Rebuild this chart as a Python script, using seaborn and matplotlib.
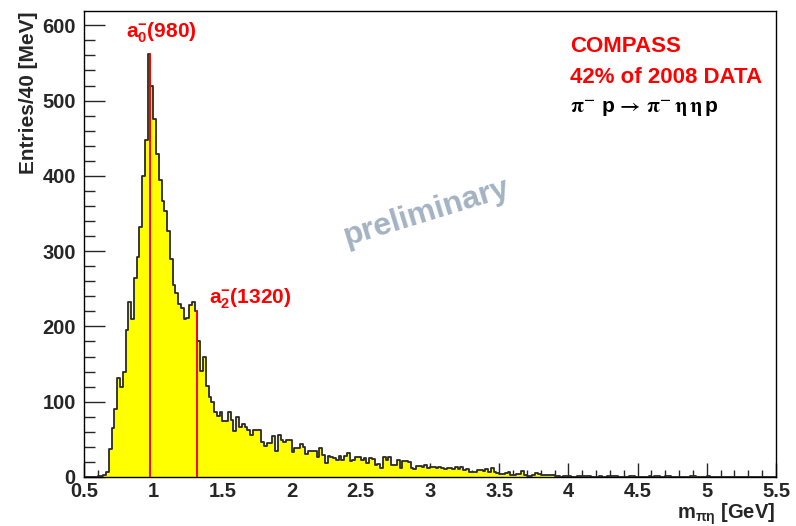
import numpy as np
import pandas as pd
import matplotlib
matplotlib.use("Agg")
import matplotlib.pyplot as plt
import seaborn as sns
from matplotlib.ticker import MultipleLocator, FuncFormatter

# pi- eta invariant mass spectrum, 20 MeV bins starting at 0.5 GeV
bin_width = 0.02
x_start = 0.5
counts = [
    0, 0, 0, 0, 0, 1, 1, 2, 6, 37,
    65, 90, 131, 119, 140, 195, 233, 210, 264, 292,
    332, 400, 448, 562, 520, 476, 429, 395, 367, 353,
    327, 290, 255, 245, 230, 225, 210, 211, 228, 232,
    221, 181, 141, 159, 121, 106, 99, 87, 81, 86,
    74, 74, 86, 76, 61, 80, 67, 70, 67, 63,
    56, 63, 63, 63, 47, 41, 45, 45, 54, 34,
    56, 49, 47, 49, 49, 33, 38, 38, 44, 40,
    31, 35, 35, 34, 26, 38, 29, 19, 28, 26,
    25, 23, 28, 22, 28, 32, 21, 22, 26, 26,
    23, 25, 19, 25, 24, 16, 17, 12, 27, 23,
    27, 16, 16, 23, 12, 21, 21, 20, 12, 10,
    15, 15, 13, 16, 12, 13, 13, 12, 13, 12,
    11, 12, 12, 11, 13, 11, 13, 9, 10, 7,
    7, 6, 9, 9, 8, 11, 6, 12, 7, 5,
    4, 4, 5, 6, 3, 3, 4, 4, 8, 2,
    1, 1, 2, 5, 4, 3, 2, 3, 2, 2,
    1, 1, 0, 1, 1, 1, 0, 0, 1, 1,
    1, 1, 1, 0, 0, 0, 1, 0, 0, 1,
    1, 1, 1, 0, 0, 0, 0, 1, 1, 0,
    0, 0, 0, 0, 1, 0, 1, 1, 0, 0,
    1, 1, 0, 0, 0, 0, 0, 0, 0, 1,
    1, 0, 0, 0, 0, 1, 0, 0, 0, 0,
    0, 0, 0, 0, 0, 0, 0, 0, 0, 0,
    0, 0, 0, 0, 0, 0, 0, 0, 0, 0,
]
resonance_labels = [r"a$_{0}^{-}$(980)", r"a$_{2}^{-}$(1320)"]
resonance_masses = [0.98, 1.32]
info_lines = ["COMPASS", "42% of 2008 DATA"]
reaction = (r"$\mathrm{\pi}^{-}$ p$\,\rightarrow\,"
            r"\mathrm{\pi}^{-}\,\mathrm{\eta}\,\mathrm{\eta}\,$p")

sns.set_style("white")
plt.rcParams["font.family"] = ["Liberation Sans", "DejaVu Sans"]
plt.rcParams["font.weight"] = "bold"
plt.rcParams["mathtext.fontset"] = "custom"
plt.rcParams["mathtext.rm"] = "Liberation Sans:bold"
plt.rcParams["mathtext.it"] = "Liberation Sans:bold"
plt.rcParams["mathtext.bf"] = "Liberation Sans:bold"

edges = [round(x_start + bin_width * i, 4) for i in range(len(counts) + 1)]
centers = [0.5 * (a + b) for a, b in zip(edges[:-1], edges[1:])]
df = pd.DataFrame({"mass": centers, "entries": counts})

W, H = 796, 526
fig = plt.figure(figsize=(W / 100, H / 100), dpi=100)
ax = fig.add_axes([84 / W, 1 - 477 / H, 692 / W, 466 / H])

sns.histplot(data=df, x="mass", weights="entries", bins=edges, element="step",
             fill=True, color="#ffff00", alpha=1, linewidth=0, ax=ax)
sns.histplot(data=df, x="mass", weights="entries", bins=edges, element="step",
             fill=False, color="#2a2a2a", linewidth=1.3, ax=ax)

# resonance markers: vertical line up to the bin just below the nominal mass
for lab, m in zip(resonance_labels, resonance_masses):
    idx = int(np.searchsorted(edges, m - 1e-9)) - 1
    ax.plot([m, m], [0, counts[idx]], color="#ff0000", lw=1.4, zorder=5)

ax.text(1.06, 584, resonance_labels[0], color="#ff0000", fontsize=15,
        ha="center", va="baseline")
ax.text(1.40, 230, resonance_labels[1], color="#ff0000", fontsize=15,
        ha="left", va="baseline")

ax.text(4.01, 564, info_lines[0], color="#ff0000", fontsize=16, ha="left", va="baseline")
ax.text(4.01, 523, info_lines[1], color="#ff0000", fontsize=16, ha="left", va="baseline")
ax.text(4.01, 483, reaction, color="black", fontsize=15, ha="left", va="baseline",
        math_fontfamily="stix")

ax.text(2.975, 352, "preliminary", color="#a3b3c4", fontsize=23, rotation=17,
        ha="center", va="center")

ax.set_xlim(0.5, 5.5)
ax.set_ylim(0, 619)
ax.set_xlabel("")
ax.set_ylabel("")

ax.xaxis.set_major_locator(MultipleLocator(0.5))
ax.xaxis.set_minor_locator(MultipleLocator(0.1))
ax.yaxis.set_major_locator(MultipleLocator(100))
ax.yaxis.set_minor_locator(MultipleLocator(20))
ax.xaxis.set_major_formatter(FuncFormatter(lambda v, _: f"{v:g}"))

ax.tick_params(axis="x", which="major", direction="in", length=10, width=1.0,
               labelsize=14.5, pad=3.5, bottom=True, top=False)
ax.tick_params(axis="x", which="minor", direction="in", length=5, width=1.0,
               bottom=True, top=False)
ax.tick_params(axis="y", which="major", direction="in", length=15, width=1.0,
               labelsize=14.5, pad=6, left=True, right=False)
ax.tick_params(axis="y", which="minor", direction="in", length=8, width=1.0,
               left=True, right=False)
for lbl in ax.get_xticklabels() + ax.get_yticklabels():
    lbl.set_fontweight("bold")

for sp in ax.spines.values():
    sp.set_visible(True)
    sp.set_color("black")
    sp.set_linewidth(1.0)

fig.text(29 / W, 1 - 12 / H, "Entries/40 [MeV]", rotation=90, fontsize=15,
         ha="center", va="top")
fig.text(775 / W, 1 - 519 / H, r"m$_{\pi\eta}$ [GeV]", fontsize=14.5,
         ha="right", va="baseline")

fig.savefig("out.png", dpi=100, facecolor="white")
